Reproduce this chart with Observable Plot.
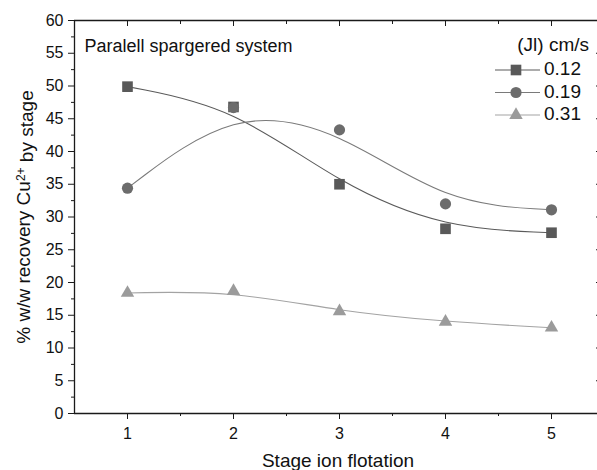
<!DOCTYPE html>
<html>
<head>
<meta charset="utf-8">
<script src="https://cdn.jsdelivr.net/npm/d3@7"></script>
<script src="https://cdn.jsdelivr.net/npm/@observablehq/plot@0.6"></script>
<style>
  html, body { margin: 0; padding: 0; background: #fff; }
  #chart { width: 597px; height: 470px; overflow: hidden; }
  #chart svg { font-family: "Liberation Sans", Arial, sans-serif; }
</style>
</head>
<body>
<div id="chart"></div>
<script>
// Cu2+ recovery per flotation stage for three superficial liquid velocities (Jl, cm/s)
const stages = [1, 2, 3, 4, 5];
const seriesNames = ["0.12", "0.19", "0.31"];
const recovery012 = [49.9, 46.8, 35.0, 28.2, 27.6];
const recovery019 = [34.4, 46.7, 43.3, 32.0, 31.1];
const recovery031 = [18.4, 18.7, 15.6, 14.0, 13.1];
const yTicks = [0, 5, 10, 15, 20, 25, 30, 35, 40, 45, 50, 55, 60];
const yMinorTicks = [2.5, 7.5, 12.5, 17.5, 22.5, 27.5, 32.5, 37.5, 42.5, 47.5, 52.5, 57.5];
const xMinorTicks = [1.5, 2.5, 3.5, 4.5];

// Styling per series
const markerSymbols = ["square", "circle", "triangle"];
const markerRadii = [6, 5.6, 5];
const markerFills = ["#595959", "#6c6c6c", "#9b9b9b"];
const lineColors = ["#5a5a5a", "#7a7a7a", "#a3a3a3"];

const seriesValues = [recovery012, recovery019, recovery031];
const rows = seriesNames.flatMap((name, i) =>
  stages.map((stage, j) => ({series: name, stage, recovery: seriesValues[i][j]}))
);

const axisColor = "#1a1a1a";
const fontSize = 16;

const marks = [
  // axis lines (left, bottom, top)
  Plot.ruleX([0.5], {stroke: axisColor, strokeWidth: 1.3}),
  Plot.ruleY([0], {stroke: axisColor, strokeWidth: 1.3}),
  Plot.ruleY([60], {stroke: axisColor, strokeWidth: 1.3}),
  // left axis
  Plot.axisY({ticks: yTicks, tickSize: 6, tickPadding: 5, label: null, fontSize, stroke: axisColor, color: "#111"}),
  Plot.axisY({ticks: yMinorTicks, tickSize: 3, tickFormat: () => "", label: null, stroke: axisColor}),
  // bottom axis
  Plot.axisX({ticks: stages, tickSize: 6, tickPadding: 8, tickFormat: d3.format("d"), label: null, fontSize, stroke: axisColor, color: "#111"}),
  Plot.axisX({ticks: xMinorTicks, tickSize: 3, tickFormat: () => "", label: null, stroke: axisColor}),
  // top axis, ticks pointing inward
  Plot.axisX({anchor: "top", ticks: stages, tickSize: -5, tickFormat: () => "", label: null, stroke: axisColor}),
  Plot.axisX({anchor: "top", ticks: xMinorTicks, tickSize: -3, tickFormat: () => "", label: null, stroke: axisColor}),
  // right axis (ticks pointing inward)
  Plot.axisY({anchor: "right", ticks: yTicks, tickSize: -2, tickFormat: () => "", label: null, stroke: axisColor}),
  // fitted smooth curves
  ...seriesNames.map((name, i) =>
    Plot.line(rows.filter(d => d.series === name), {
      x: "stage", y: "recovery", curve: "basis", stroke: lineColors[i], strokeWidth: 1.1
    })
  ),
  // measured points
  ...seriesNames.map((name, i) =>
    Plot.dot(rows.filter(d => d.series === name), {
      x: "stage", y: "recovery", symbol: markerSymbols[i], r: markerRadii[i], fill: markerFills[i], stroke: "none"
    })
  ),
  // in-plot title
  Plot.text(["Paralell spargered system"], {
    frameAnchor: "top-left", dx: 10, dy: 26, textAnchor: "start", lineAnchor: "middle", fontSize: 18, fill: "#111"
  })
];

const chart = Plot.plot({
  width: 597,
  height: 470,
  marginLeft: 74,
  marginRight: 0,
  marginTop: 20,
  marginBottom: 57,
  x: {domain: [0.5, 5.5], range: [74, 604]},
  y: {domain: [0, 60]},
  style: {fontFamily: "'Liberation Sans', Arial, sans-serif", fontSize: "16px", color: "#111", background: "#fff"},
  marks
});

const svg = d3.select(chart);

// x-axis title
svg.append("text")
  .attr("x", 338).attr("y", 462)
  .attr("text-anchor", "middle").attr("dominant-baseline", "middle")
  .attr("font-size", 19).attr("fill", "#111")
  .text("Stage ion flotation");

// y-axis title with superscript charge
const yTitle = svg.append("text")
  .attr("transform", "translate(30,217) rotate(-90)")
  .attr("text-anchor", "middle")
  .attr("font-size", 19).attr("fill", "#111");
yTitle.append("tspan").text("% w/w recovery Cu");
yTitle.append("tspan").attr("dy", "-0.45em").attr("font-size", 12).text("2+");
yTitle.append("tspan").attr("dy", "0.45em").text(" by stage");

// legend
const legend = svg.append("g").attr("fill", "#111");
legend.append("text")
  .attr("x", 589).attr("y", 46)
  .attr("text-anchor", "end").attr("dominant-baseline", "middle")
  .attr("font-size", 19)
  .text("(Jl) cm/s");
seriesNames.forEach((name, i) => {
  const y = 70 + i * 22.5;
  const g = legend.append("g");
  g.append("line")
    .attr("x1", 495).attr("x2", 540).attr("y1", y).attr("y2", y)
    .attr("stroke", lineColors[i]).attr("stroke-width", 1.1);
  g.append("path")
    .attr("transform", `translate(516,${y})`)
    .attr("d", d3.symbol(
      markerSymbols[i] === "square" ? d3.symbolSquare : markerSymbols[i] === "circle" ? d3.symbolCircle : d3.symbolTriangle,
      Math.PI * markerRadii[i] * markerRadii[i]
    )())
    .attr("fill", markerFills[i]);
  g.append("text")
    .attr("x", 544).attr("y", y)
    .attr("text-anchor", "start")
    .attr("dominant-baseline", "middle")
    .attr("font-size", 19)
    .text(name);
});

document.getElementById("chart").append(chart);
</script>
</body>
</html>
